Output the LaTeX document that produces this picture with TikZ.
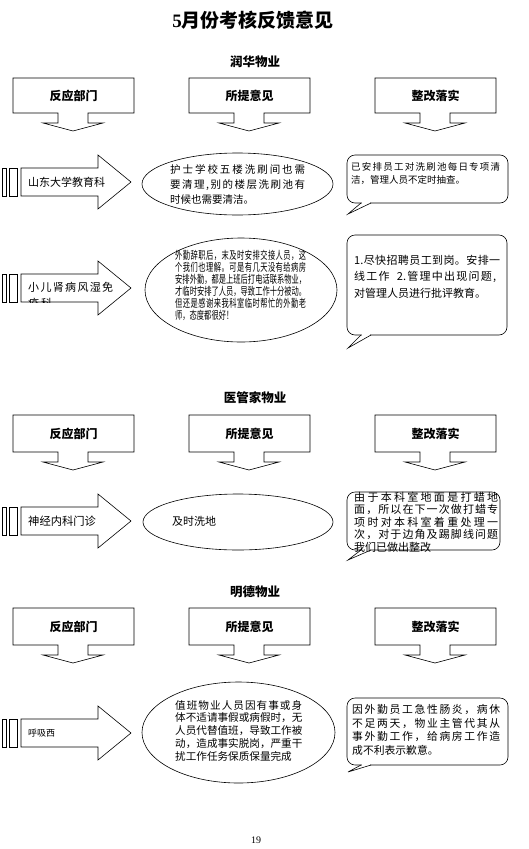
\documentclass[tikz,border=0pt]{standalone}
\usepackage{fontspec}
\setmainfont{Liberation Serif}
\newfontfamily\cjk{Noto Sans CJK SC}
\newfontfamily\cjkcond{Noto Sans CJK SC}[FakeStretch=0.66]
\usetikzlibrary{shapes.geometric}
\newcommand\fs[1]{\fontsize{#1}{#1}\selectfont}
\def\sprA#1{#1\sprB}
\def\sprB#1{\ifx\relax#1\else\hfill#1\expandafter\sprB\fi}
\newcommand\spread[2]{\makebox[#1][s]{\sprA#2\relax}}
\tikzset{
  ln/.style={draw=black, line width=0.6pt},
  tl/.style={anchor=west, inner sep=0pt},
  hlabel/.style={inner sep=0pt, font=\cjk\bfseries\fs{12}},
  sect/.style={inner sep=0pt, font=\cjk\bfseries\fs{12.5}},
  oval/.style={ellipse, ln, inner sep=0pt},
}
\newcommand\headbox[5]{% #1 name, #2 x1, #3 top, #4 bottom, #5 label
  \draw[ln] (#2,#3) -- (#2+121,#3) -- (#2+121,#4) -- (#2+75,#4) -- (#2+75,#4+10) -- (#2+90,#4+10)
    -- (#2+60,#4+18) -- (#2+30,#4+10) -- (#2+45,#4+10) -- (#2+45,#4) -- (#2,#4) -- cycle;
  \node[hlabel] (#1) at (#2+60.5,#3/2+#4/2) {#5};}
\newcommand\arrowshape[1]{(21,#1-14) -- (98,#1-14) -- (98,#1-27) -- (131,#1) -- (98,#1+27) -- (98,#1+14) -- (21,#1+14) -- cycle}
\newcommand\deptarrow[1]{% #1 centre y
  \draw[ln] (2,#1-14) rectangle (6,#1+14);
  \draw[ln] (9,#1-14) rectangle (17,#1+14);
  \draw[ln] \arrowshape{#1};}
\newcommand\bubble[5]{% x1, y1, x2, y2, tip y
  \draw[ln, rounded corners=8pt] (#1,#2) rectangle (#3,#4);
  \fill[white] (#1+14.6,#4-1) rectangle (#1+23.4,#4+1);
  \draw[ln] (#1+14,#4) -- (#1+1,#5) -- (#1+24,#4);}
\newcommand\sectionhead[4]{% name prefix, title y, top, bottom
  \node[sect] (#1t) at (255,#2) {#1};
  \headbox{#1a}{13}{#3}{#4}{反应部门}
  \headbox{#1b}{189}{#3}{#4}{所提意见}
  \headbox{#1c}{375}{#3}{#4}{整改落实}}
\begin{document}
\begin{tikzpicture}[x=1pt,y=-1pt]
\useasboundingbox (0,0) rectangle (528,849);
\fill[white] (0,0) rectangle (528,849);

\node[inner sep=0pt, font=\cjk\bfseries\fs{19}] (title) at (253,20) {{\rmfamily\bfseries 5}月份考核反馈意见};

% ---------- Section 1
\sectionhead{润华物业}{62}{78}{113}

% row 1
\deptarrow{182}
\node[tl, font=\cjk\fs{11}] (d1) at (28,182) {山东大学教育科};
\node[oval, minimum width=191pt, minimum height=62pt] (e1) at (237.5,184) {};
\node[tl, font=\cjk\fs{10.5}] (e1a) at (170,169) {\spread{135pt}{护士学校五楼洗刷间也需}};
\node[tl, font=\cjk\fs{10.5}] (e1b) at (170,185) {\spread{135pt}{要清理{,}别的楼层洗刷池有}};
\node[tl, font=\cjk\fs{10.5}] (e1c) at (170,200) {时候也需要清洁。};
\bubble{347}{155}{508}{203}{214}
\node[tl, font=\cjk\fs{9.5}] (c1a) at (351,167) {\spread{149pt}{已安排员工对洗刷池每日专项清}};
\node[tl, font=\cjk\fs{9.5}] (c1b) at (351,179.5) {洁，管理人员不定时抽查。};

% row 2
\deptarrow{288}
\begin{scope}
  \clip \arrowshape{288};
  \node[tl, font=\cjk\fs{11}] (d2a) at (28,287) {\spread{85pt}{小儿肾病风湿免}};
  \node[tl, font=\cjk\fs{11}] (d2b) at (28,303.5) {\spread{24pt}{疫科}};
\end{scope}
\node[oval, minimum width=192pt, minimum height=104pt] (e2) at (241,290) {};
\node[tl, font=\cjkcond\fs{11}] (e2a) at (175,255) {\spread{131pt}{外勤辞职后，末及时安排交接人员，这}};
\node[tl, font=\cjkcond\fs{11}] (e2b) at (175,267) {\spread{131pt}{个我们也理解。可是有几天没有给病房}};
\node[tl, font=\cjkcond\fs{11}] (e2c) at (175,279) {\spread{131pt}{安排外勤，都是上班后打电话联系物业，}};
\node[tl, font=\cjkcond\fs{11}] (e2d) at (175,291) {\spread{131pt}{才临时安排了人员，导致工作十分被动。}};
\node[tl, font=\cjkcond\fs{11}] (e2e) at (175,303) {\spread{131pt}{但还是感谢来我科室临时帮忙的外勤老}};
\node[tl, font=\cjkcond\fs{11}] (e2f) at (175,315) {师，态度都很好！};
\bubble{347}{235}{507}{335}{348}
\node[tl, font=\cjk\fs{11}] (c2a) at (354,260) {\spread{146pt}{{1.}尽快招聘员工到岗。安排一}};
\node[tl, font=\cjk\fs{11}] (c2b) at (354,277) {\spread{142pt}{线工作{\hspace{6pt}2.}管理中出现问题{,}}};
\node[tl, font=\cjk\fs{11}] (c2c) at (354,293) {对管理人员进行批评教育。};

% ---------- Section 2
\sectionhead{医管家物业}{398}{415}{452}

% row 3
\deptarrow{521}
\node[tl, font=\cjk\fs{11.3}] (d3) at (28,521) {神经内科门诊};
\node[oval, minimum width=190pt, minimum height=56pt] (e3) at (238,522) {};
\node[tl, font=\cjk\fs{11}] (e3a) at (172,521) {及时洗地};
\bubble{347}{492}{500}{550}{560}
\node[tl, font=\cjk\fs{11}] (c3a) at (354,497) {\spread{144pt}{由于本科室地面是打蜡地}};
\node[tl, font=\cjk\fs{11}] (c3b) at (354,509.5) {\spread{144pt}{面，所以在下一次做打蜡专}};
\node[tl, font=\cjk\fs{11}] (c3c) at (354,522) {\spread{144pt}{项时对本科室着重处理一}};
\node[tl, font=\cjk\fs{11}] (c3d) at (354,534.5) {\spread{144pt}{次，对于边角及踢脚线问题}};
\node[tl, font=\cjk\fs{11}] (c3e) at (354,547) {我们已做出整改};

% ---------- Section 3
\sectionhead{明德物业}{592}{608}{645}

% row 4
\deptarrow{733}
\node[tl, font=\cjk\fs{9}] (d4) at (28,733) {呼吸西};
\node[oval, minimum width=193pt, minimum height=101pt] (e4) at (238.5,732.5) {};
\node[tl, font=\cjk\fs{10.6}] (e4a) at (175,705) {\spread{127pt}{值班物业人员因有事或身}};
\node[tl, font=\cjk\fs{10.6}] (e4b) at (175,717.75) {\spread{127pt}{体不适请事假或病假时，无}};
\node[tl, font=\cjk\fs{10.6}] (e4c) at (175,730.5) {\spread{127pt}{人员代替值班，导致工作被}};
\node[tl, font=\cjk\fs{10.6}] (e4d) at (175,743.25) {\spread{127pt}{动，造成事实脱岗，严重干}};
\node[tl, font=\cjk\fs{10.6}] (e4e) at (175,756) {扰工作任务保质保量完成};
\bubble{347}{698}{508}{765}{772}
\node[tl, font=\cjk\fs{10.8}] (c4a) at (352,710) {\spread{148pt}{因外勤员工急性肠炎，病休}};
\node[tl, font=\cjk\fs{10.8}] (c4b) at (352,723.5) {\spread{148pt}{不足两天，物业主管代其从}};
\node[tl, font=\cjk\fs{10.8}] (c4c) at (352,737) {\spread{148pt}{事外勤工作，给病房工作造}};
\node[tl, font=\cjk\fs{10.8}] (c4d) at (352,750.5) {成不利表示歉意。};

\node[inner sep=0pt, font=\fs{10}] (pg) at (256,840) {19};
\end{tikzpicture}
\end{document}
